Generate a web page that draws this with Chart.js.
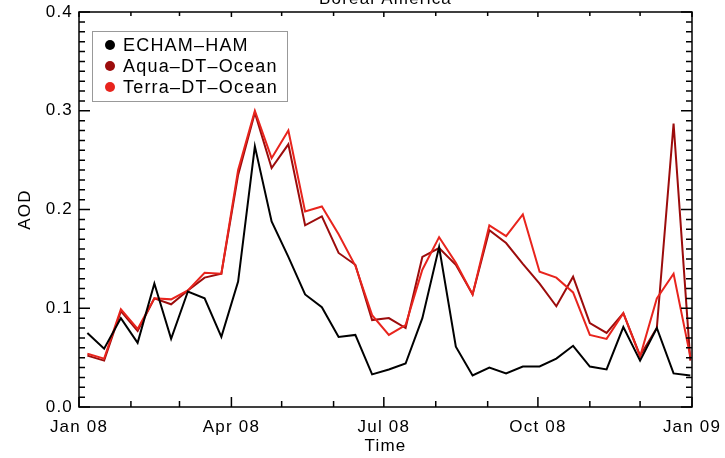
<!DOCTYPE html>
<html>
<head>
<meta charset="utf-8">
<title>Boreal America AOD</title>
<script src="https://cdn.jsdelivr.net/npm/chart.js@4.4.1/dist/chart.umd.min.js"></script>
<style>
  html, body { margin: 0; padding: 0; background: #fff; }
  #wrap { width: 725px; height: 458px; }
</style>
</head>
<body>
<div id="wrap"><canvas id="aod-chart" width="725" height="458"></canvas></div>
<script>
// day of year (2008) of each 10-day mean
const days = [5, 15, 25, 35, 45, 55, 65, 75, 85, 95, 105, 115, 125, 135, 145, 155, 165, 175, 185,
  195, 205, 215, 225, 235, 245, 255, 265, 275, 285, 295, 305, 315, 325, 335, 345, 355, 365];

const echamHam = [0.075, 0.059, 0.090, 0.065, 0.125, 0.069, 0.117, 0.110, 0.071, 0.127,
  0.264, 0.188, 0.152, 0.114, 0.101, 0.071, 0.073, 0.033, 0.038, 0.044,
  0.090, 0.162, 0.061, 0.032, 0.040, 0.034, 0.041, 0.041, 0.049, 0.062,
  0.041, 0.038, 0.081, 0.047, 0.080, 0.034, 0.032];

const aquaDtOcean = [0.052, 0.047, 0.097, 0.077, 0.110, 0.104, 0.118, 0.131, 0.135, 0.235,
  0.298, 0.242, 0.266, 0.184, 0.193, 0.156, 0.144, 0.088, 0.090, 0.080,
  0.152, 0.161, 0.144, 0.114, 0.179, 0.166, 0.145, 0.125, 0.102, 0.132,
  0.085, 0.075, 0.095, 0.052, 0.080, 0.287, 0.047];

const terraDtOcean = [0.054, 0.049, 0.099, 0.079, 0.110, 0.109, 0.118, 0.136, 0.135, 0.240,
  0.300, 0.252, 0.280, 0.198, 0.203, 0.175, 0.143, 0.093, 0.073, 0.083,
  0.139, 0.172, 0.146, 0.114, 0.184, 0.173, 0.195, 0.137, 0.131, 0.116,
  0.073, 0.069, 0.095, 0.051, 0.110, 0.135, 0.051];

const seriesLabels = ['ECHAM–HAM', 'Aqua–DT–Ocean', 'Terra–DT–Ocean'];

// x ticks (day of year) and their labels, minor ticks at month starts
const tickDays = [0, 91, 182, 274, 366];
const tickLabels = ['Jan 08', 'Apr 08', 'Jul 08', 'Oct 08', 'Jan 09'];
const minorTickDays = [31, 60, 121, 152, 213, 244, 305, 335];
const yTicks = [0, 0.1, 0.2, 0.3, 0.4];

const FONT = '"Liberation Sans", Arial, Helvetica, sans-serif';

const toPoints = (vals) => vals.map((v, i) => ({ x: days[i], y: v }));

// the source figure's Helvetica is set a bit wider than Liberation Sans
const wideText = {
  id: 'wideText',
  beforeUpdate(chart) { chart.ctx.letterSpacing = '1.2px'; },
  beforeDraw(chart) { chart.ctx.letterSpacing = '1.2px'; }
};

// IDL-style frame with inward ticks on all four sides
const frameTicks = {
  id: 'frameTicks',
  afterDatasetsDraw(chart) {
    const { ctx, chartArea: a, scales: { x, y } } = chart;
    ctx.save();
    ctx.strokeStyle = '#000';
    ctx.lineWidth = 1.5;
    ctx.strokeRect(a.left, a.top, a.right - a.left, a.bottom - a.top);
    ctx.beginPath();
    const xTick = (v, len, topLen) => {
      const px = x.getPixelForValue(v);
      ctx.moveTo(px, a.bottom);
      ctx.lineTo(px, a.bottom - len);
      ctx.moveTo(px, a.top);
      ctx.lineTo(px, a.top + topLen);
    };
    tickDays.forEach(v => xTick(v, 10, 5));
    minorTickDays.forEach(v => xTick(v, 6, 4));
    for (let i = 0; i <= 40; i++) {
      const py = y.getPixelForValue(i / 100);
      const len = i % 10 === 0 ? 11 : 6;
      ctx.moveTo(a.left, py);
      ctx.lineTo(a.left + len, py);
      ctx.moveTo(a.right, py);
      ctx.lineTo(a.right - len, py);
    }
    ctx.stroke();
    ctx.restore();
  }
};

// boxed legend in the upper left of the plot
const boxLegend = {
  id: 'boxLegend',
  afterDraw(chart) {
    const ctx = chart.ctx;
    ctx.save();
    ctx.fillStyle = '#fff';
    ctx.fillRect(92, 31, 195, 70);
    ctx.strokeStyle = '#999';
    ctx.lineWidth = 1;
    ctx.strokeRect(92.5, 31.5, 195, 70);
    ctx.font = '18px ' + FONT;
    ctx.textBaseline = 'middle';
    ctx.textAlign = 'left';
    chart.data.datasets.forEach((ds, i) => {
      const cy = 45 + i * 21;
      ctx.fillStyle = ds.borderColor;
      ctx.beginPath();
      ctx.arc(110, cy, 5, 0, Math.PI * 2);
      ctx.fill();
      ctx.fillStyle = '#000';
      ctx.fillText(ds.label, 123, cy + 1);
    });
    ctx.restore();
  }
};

// title, cut off by the top edge as in the source figure
const topTitle = {
  id: 'topTitle',
  afterDraw(chart) {
    const { ctx, chartArea: a } = chart;
    ctx.save();
    ctx.font = '17px ' + FONT;
    ctx.fillStyle = '#000';
    ctx.textAlign = 'center';
    ctx.textBaseline = 'alphabetic';
    ctx.fillText('Boreal America', (a.left + a.right) / 2, 4);
    ctx.restore();
  }
};

new Chart(document.getElementById('aod-chart'), {
  type: 'line',
  data: {
    datasets: [
      { label: seriesLabels[0], data: toPoints(echamHam), borderColor: '#000000', order: 0 },
      { label: seriesLabels[1], data: toPoints(aquaDtOcean), borderColor: '#9c0c0c', order: 2 },
      { label: seriesLabels[2], data: toPoints(terraDtOcean), borderColor: '#e8241d', order: 1 }
    ]
  },
  options: {
    responsive: false,
    animation: false,
    devicePixelRatio: 1,
    layout: { padding: { top: 12, right: 33, left: 0, bottom: 0 } },
    elements: {
      line: { borderWidth: 2, tension: 0, fill: false },
      point: { radius: 0, hoverRadius: 0 }
    },
    plugins: {
      legend: { display: false },
      tooltip: { enabled: false },
      title: { display: false }
    },
    scales: {
      x: {
        type: 'linear',
        min: 0,
        max: 366,
        afterBuildTicks: (s) => { s.ticks = tickDays.map(v => ({ value: v })); },
        afterFit: (s) => {
          s.height = 51;
          s.paddingLeft = 0;
          s.paddingRight = 0;
        },
        grid: { display: false, drawTicks: false },
        border: { display: false },
        ticks: {
          color: '#000',
          font: { family: FONT, size: 17 },
          padding: 10,
          maxRotation: 0,
          autoSkip: false,
          callback: (v, i) => tickLabels[i]
        },
        title: {
          display: true,
          text: 'Time',
          color: '#000',
          font: { family: FONT, size: 17 },
          padding: { top: 0, bottom: 1 }
        }
      },
      y: {
        min: 0,
        max: 0.4,
        afterBuildTicks: (s) => { s.ticks = yTicks.map(v => ({ value: v })); },
        afterFit: (s) => {
          s.width = 79;
          s.paddingTop = 0;
          s.paddingBottom = 0;
        },
        grid: { display: false, drawTicks: false },
        border: { display: false },
        ticks: {
          color: '#000',
          font: { family: FONT, size: 17 },
          padding: 6,
          callback: (v) => v.toFixed(1)
        },
        title: {
          display: true,
          text: 'AOD',
          color: '#000',
          font: { family: FONT, size: 17 },
          padding: { top: 15, bottom: 0 }
        }
      }
    }
  },
  plugins: [wideText, frameTicks, boxLegend, topTitle]
});
</script>
</body>
</html>
